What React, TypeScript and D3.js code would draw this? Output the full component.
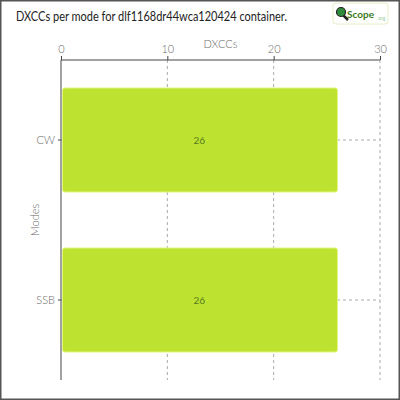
import { useRef, useEffect } from 'react';
import * as d3 from 'd3';

const modes = ['CW', 'SSB'];
const dxccs = [26, 26];
const xTicks = [0, 10, 20, 30];
const title = 'DXCCs per mode for dlf1168dr44wca120424 container.';

export default function App() {
  const svgRef = useRef<SVGSVGElement>(null);

  useEffect(() => {
    if (!svgRef.current) return;
    const svg = d3.select(svgRef.current);
    svg.selectAll('*').remove();

    const font = 'Lato, "DejaVu Sans", sans-serif';
    const margin = { top: 60, left: 61, right: 20, bottom: 20 };
    const W = 400, H = 400;

    svg.append('rect').attr('x', 0.75).attr('y', 0.75).attr('width', W - 1.5).attr('height', H - 1.5)
      .attr('fill', '#fff').attr('stroke', '#555').attr('stroke-width', 1.5);

    svg.append('text').attr('x', 16).attr('y', 21).attr('font-family', font).attr('font-size', 13)
      .attr('fill', '#222').attr('textLength', 271).attr('lengthAdjust', 'spacingAndGlyphs').text(title);

    // logo
    const logo = svg.append('g').attr('transform', 'translate(333,3)');
    logo.append('rect').attr('width', 55).attr('height', 21).attr('rx', 3).attr('fill', '#fff').attr('stroke', '#e6f0c8');
    logo.append('line').attr('x1', 9).attr('y1', 11).attr('x2', 15).attr('y2', 17).attr('stroke', '#222').attr('stroke-width', 2.5);
    logo.append('circle').attr('cx', 8).attr('cy', 9).attr('r', 4.5).attr('fill', '#2e8b3a').attr('stroke', '#222').attr('stroke-width', 1.2);
    logo.append('text').attr('x', 14).attr('y', 15).attr('font-family', font).attr('font-weight', 'bold')
      .attr('font-size', 10).attr('fill', '#3a7a1a').text('Scope');
    logo.append('text').attr('x', 44).attr('y', 17).attr('font-family', font).attr('font-size', 5).attr('fill', '#9c9').text('.org');

    const x = d3.scaleLinear().domain([0, 30]).range([margin.left, 380]);
    const y = d3.scaleBand().domain(modes).range([margin.top, 380]).paddingInner(0.35).paddingOuter(0.175);

    const g = svg.append('g');

    // grid
    g.selectAll('.vg').data(xTicks.slice(1)).join('line')
      .attr('x1', (d) => x(d)).attr('x2', (d) => x(d)).attr('y1', margin.top).attr('y2', 380)
      .attr('stroke', '#aaa').attr('stroke-dasharray', '3,3');
    g.selectAll('.hg').data(modes).join('line')
      .attr('x1', x(0)).attr('x2', x(30)).attr('y1', (d) => y(d)! + y.bandwidth() / 2).attr('y2', (d) => y(d)! + y.bandwidth() / 2)
      .attr('stroke', '#aaa').attr('stroke-dasharray', '3,3');

    // bars
    g.selectAll('.bar').data(modes).join('rect')
      .attr('x', x(0) + 1.5).attr('y', (d) => y(d)!)
      .attr('width', (_, i) => x(dxccs[i]) - x(0) - 1.5).attr('height', y.bandwidth())
      .attr('rx', 2.5).attr('fill', '#bde230').attr('stroke', '#e2f57c').attr('stroke-width', 1);

    g.selectAll('.lbl').data(modes).join('text')
      .attr('x', (_, i) => (x(0) + x(dxccs[i])) / 2).attr('y', (d) => y(d)! + y.bandwidth() / 2 + 4)
      .attr('text-anchor', 'middle').attr('font-family', font).attr('font-size', 10).attr('fill', '#557a20')
      .text((_, i) => dxccs[i]);

    // axes
    const xa = g.append('g').attr('transform', `translate(0,${margin.top})`)
      .call(d3.axisTop(x).tickValues(xTicks).tickSize(4).tickSizeOuter(0));
    const ya = g.append('g').attr('transform', `translate(${margin.left},0)`)
      .call(d3.axisLeft(y).tickSize(3).tickSizeOuter(0));
    [xa, ya].forEach((a) => {
      a.select('.domain').attr('stroke', '#444');
      a.selectAll('.tick line').attr('stroke', '#444');
      a.selectAll('.tick text').attr('fill', '#6a6a6a').attr('font-family', font).attr('font-weight', 300).attr('font-size', 11);
    });
    ya.select('.domain').attr('d', `M0,${margin.top}V380`);
    xa.select('.domain').attr('d', `M${x(0)},0H${x(30)}`);

    svg.append('text').attr('x', (x(0) + x(30)) / 2).attr('y', 48).attr('text-anchor', 'middle')
      .attr('font-family', font).attr('font-weight', 300).attr('font-size', 11).attr('fill', '#6a6a6a').text('DXCCs');
    svg.append('text').attr('transform', `translate(39,${(margin.top + 380) / 2}) rotate(-90)`)
      .attr('text-anchor', 'middle').attr('font-family', font).attr('font-weight', 300).attr('font-size', 11).attr('fill', '#6a6a6a').text('Modes');
  }, []);

  return <svg ref={svgRef} width={400} height={400} style={{ display: 'block', position: 'absolute', left: 0, top: 0 }} />;
}
